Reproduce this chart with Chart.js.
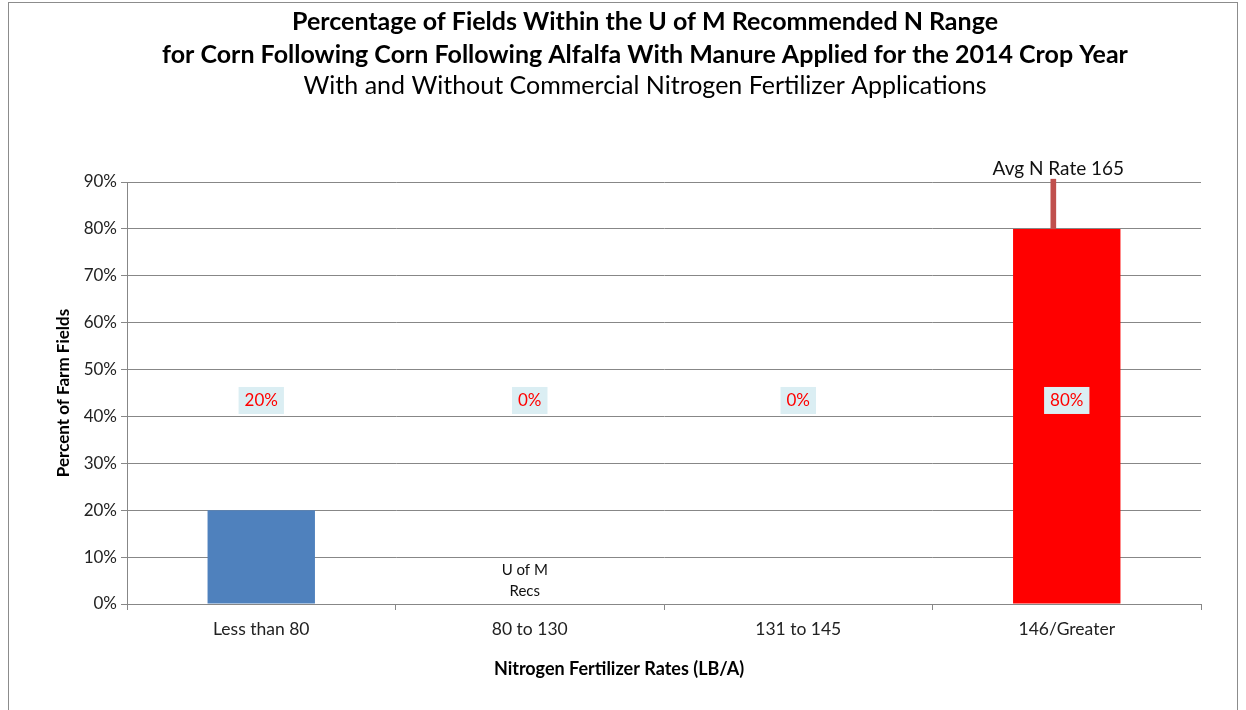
<!DOCTYPE html>
<html>
<head>
<meta charset="utf-8">
<script src="https://cdn.jsdelivr.net/npm/chart.js@4"></script>
<style>
  html, body { margin: 0; padding: 0; background: #fff; }
  #wrap { position: relative; width: 1246px; height: 710px; }
  #frame { position: absolute; left: 8px; top: 2px; width: 1228px; height: 720px; border: 1px solid #8c8c8c; pointer-events: none; }
</style>
</head>
<body>
<div id="wrap">
  <canvas id="myChart" width="1246" height="710"></canvas>
  <div id="frame"></div>
</div>
<script>
// chart data
var categories = ['Less than 80', '80 to 130', '131 to 145', '146/Greater'];
var percentFields = [20, 0, 0, 80];
var barColors = ['#4F81BD', '#4F81BD', '#4F81BD', '#FF0000'];
// thin marker line above the last bar (position on a 0..3 category index, range in %)
var avgRateBar = [{ x: 2.95, y: [80, 90.6] }];
var avgNote = 'Avg N Rate 165';
var recsNote = ['U of M', 'Recs'];
var recsIndex = 1;
var recsLevel = 7.3;
var labelLevel = 43.3;
var yTicks = [0, 10, 20, 30, 40, 50, 60, 70, 80, 90];

var titleLines = ['Percentage of Fields Within the U of M Recommended N Range',
                  'for Corn Following Corn Following Alfalfa With Manure Applied for the 2014 Crop Year'];
var subTitle = 'With and Without Commercial Nitrogen Fertilizer Applications';
var xTitle = 'Nitrogen Fertilizer Rates (LB/A)';

var FONT = 'Lato';

// titles (the original is drawn a little right of centre)
var titlesPlugin = {
  id: 'titles',
  afterDraw: function(chart) {
    var ctx = chart.ctx;
    var cx = chart.width / 2 + 22;
    ctx.save();
    ctx.fillStyle = '#000';
    ctx.textAlign = 'center';
    ctx.textBaseline = 'middle';
    ctx.font = 'bold 25px ' + FONT;
    ctx.fillText(titleLines[0], cx, 22);
    ctx.fillText(titleLines[1], cx, 55);
    ctx.font = '25px ' + FONT;
    ctx.fillText(subTitle, cx, 86);
    // x axis title
    ctx.font = 'bold 18px ' + FONT;
    ctx.fillText(xTitle, 619, 669);
    ctx.restore();
  }
};

// value labels, avg note and U of M note
var notesPlugin = {
  id: 'notes',
  afterDatasetsDraw: function(chart) {
    var ctx = chart.ctx;
    var y = chart.scales.y;
    var bars = chart.getDatasetMeta(0).data;
    ctx.save();
    ctx.font = '17px ' + FONT;
    ctx.textAlign = 'center';
    ctx.textBaseline = 'middle';
    bars.forEach(function(bar, i) {
      var txt = percentFields[i] + '%';
      var ly = y.getPixelForValue(labelLevel);
      var w = ctx.measureText(txt).width + 12;
      ctx.fillStyle = '#DBEEF3';
      ctx.fillRect(bar.x - w / 2, ly - 14, w, 27);
      ctx.fillStyle = '#FF0000';
      ctx.fillText(txt, bar.x, ly);
    });

    // avg note above the thin bar
    var avg = chart.getDatasetMeta(1).data[0];
    ctx.fillStyle = '#111';
    ctx.font = '19px ' + FONT;
    ctx.textBaseline = 'bottom';
    ctx.fillText(avgNote, avg.x + 5, avg.y - 1);

    // U of M Recs
    ctx.font = '15px ' + FONT;
    ctx.textBaseline = 'middle';
    var rx = chart.scales.x.getPixelForValue(recsIndex) - 5;
    var ry = y.getPixelForValue(recsLevel);
    recsNote.forEach(function(line, k) {
      ctx.fillText(line, rx, ry + k * 21);
    });
    ctx.restore();
  }
};

window.onload = function() {
  var ctx = document.getElementById('myChart').getContext('2d');

  var params = {
    type: 'bar',
    data: {
      labels: categories,
      datasets: [
        {
          label: 'Percent of Farm Fields',
          data: percentFields,
          backgroundColor: barColors,
          categoryPercentage: 1,
          barPercentage: 0.4,
          grouped: false,
          order: 2
        },
        {
          label: 'Avg N Rate',
          data: avgRateBar,
          xAxisID: 'xAvg',
          backgroundColor: '#C0504D',
          barThickness: 5,
          grouped: false,
          clip: false,
          order: 1
        }
      ]
    },
    options: {
      responsive: false,
      animation: false,
      layout: { padding: { top: 182, left: 45, right: 45, bottom: 20 } },
      plugins: {
        legend: { display: false },
        tooltip: { enabled: false },
        title: { display: false }
      },
      scales: {
        x: {
          grid: { display: true, drawOnChartArea: false, drawTicks: true, tickLength: 6, color: '#878787' },
          border: { display: true, color: '#878787' },
          ticks: { color: '#222', font: { family: FONT, size: 17.5 }, padding: 9 },
          afterFit: function(scale) { scale.height = 86; }
        },
        xAvg: {
          type: 'linear',
          display: false,
          min: -0.5,
          max: 3.5,
          offset: false
        },
        y: {
          min: 0,
          max: 90,
          afterBuildTicks: function(scale) {
            scale.ticks = yTicks.map(function(v) { return { value: v }; });
          },
          grid: { color: '#878787', tickLength: 6 },
          border: { display: true, color: '#878787' },
          ticks: {
            color: '#222',
            font: { family: FONT, size: 17 },
            padding: 4,
            callback: function(v) { return v + '%'; }
          },
          title: {
            display: true,
            text: 'Percent of Farm Fields',
            color: '#000',
            font: { family: FONT, size: 17, weight: 'bold' },
            padding: { top: 8, bottom: 0 }
          },
          afterFit: function(scale) { scale.width = 82; }
        }
      }
    },
    plugins: [notesPlugin, titlesPlugin]
  };

  var chart = new Chart(ctx, params);
};
</script>
</body>
</html>
